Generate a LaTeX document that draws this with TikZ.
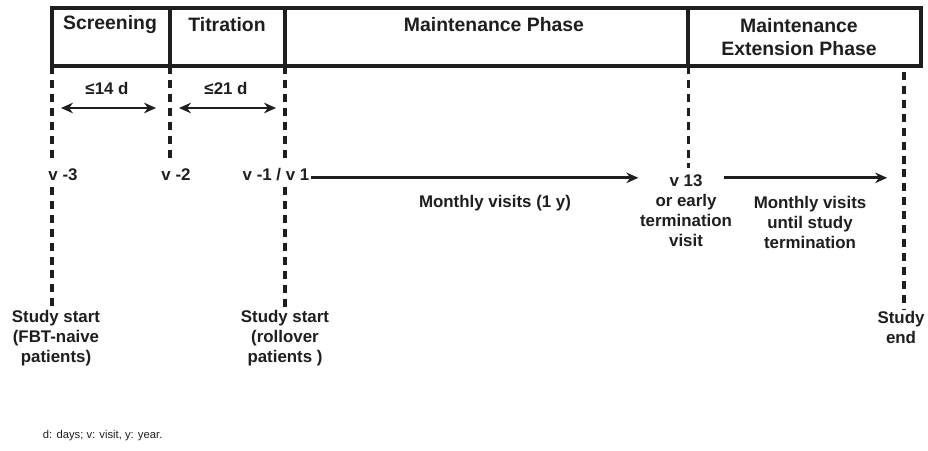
\documentclass[tikz,border=0pt]{standalone}
\usepackage{fontspec}
\setmainfont{Liberation Sans}
\usetikzlibrary{arrows.meta, positioning, calc}
\definecolor{ink}{RGB}{30,30,30}

\begin{document}
\begin{tikzpicture}[x=0.025cm, y=-0.025cm,
		>=Stealth,
		cell/.style={draw=ink, line width=2.6pt, minimum height=1.45cm,
			inner sep=0pt, outer sep=0pt, anchor=north west},
		head/.style={font=\fontsize{13.8}{16.5}\selectfont\bfseries,
			text=ink, align=center},
		lbl/.style={font=\fontsize{12}{14.2}\selectfont\bfseries,
			text=ink, align=center, inner sep=1pt},
		vline/.style={draw=ink, line width=2.3pt, dash pattern=on 5.7pt off 4.2pt},
		arr/.style={draw=ink, line width=2pt, -{Stealth[length=8.5pt,width=7.5pt]}},
		darr/.style={draw=ink, line width=2pt,
			{Stealth[length=8.5pt,width=7.5pt]}-{Stealth[length=8.5pt,width=7.5pt]}}
		]
		\useasboundingbox (0,0) rectangle (928,450);
		
		% Phases
		\node[cell, minimum width=2.95cm]   (scr) at (52,8) {};
		\node[cell, minimum width=2.875cm]  (tit) at (scr.north east) {};
		\node[cell, minimum width=10.075cm] (mai) at (tit.north east) {};
		\node[cell, minimum width=5.825cm]  (ext) at (mai.north east) {};
		
		\node[head] (scrT) at (110,25) {Screening};
		\node[head] (titT) at (227,25) {Titration};
		\node[head] (maiT) at (494,25) {Maintenance Phase};
		\node[head] (extT) at (799,37) {Maintenance\\Extension Phase};
		
		% Durees
		\node[lbl] (d14) at (107,88) {≤14 d};
		\node[lbl] (d21) at (226,88) {≤21 d};
		\coordinate (d14a) at (61,108);
		\coordinate (d14b) at (156,108);
		\coordinate (d21a) at (179,108);
		\coordinate (d21b) at (276,108);
		\foreach \a/\b in {d14a/d14b, d21a/d21b}
		\draw[darr] (\a) -- (\b);
		
		% Visites
		\node[lbl] (v3) at (63,175) {v -3};
		\node[lbl] (v2) at (176,175) {v -2};
		\node[lbl] (v1) at (276,175) {v -1 / v 1};
		\node[lbl] (v13) at (686,211) {v 13\\or early\\termination\\visit};
		\node[lbl] (mv1) at (495,203) {Monthly visits (1 y)};
		\node[lbl] (mvx) at (810,222) {Monthly visits\\until study\\termination};
		
		% Debut et fin
		\node[lbl] (fbt)  at (56,338)  {Study start\\(FBT-naive\\patients)};
		\node[lbl] (roll) at (285,338) {Study start\\(rollover\\patients )};
		\node[lbl] (end)  at (901,327) {Study\\end};
		\coordinate (endtop) at (904,72);
		
		\draw[vline, shorten >=4pt] (scr.south west) -- (scr.south west |- v3.north);
		\draw[vline, shorten <=3pt] (scr.south west |- v3.south) -- (scr.south west |- fbt.north);
		\draw[vline, shorten >=4pt] (tit.south west) -- (tit.south west |- v2.north);
		\draw[vline, shorten >=4pt] (mai.south west) -- (mai.south west |- v1.north);
		\draw[vline, shorten <=3pt] (mai.south west |- v1.south) -- (mai.south west |- roll.north);
		\draw[vline, shorten >=4pt] (ext.south west) -- (ext.south west |- v13.north);
		\draw[vline] (endtop) -- (endtop |- end.north);
		
		\coordinate (lane) at ([yshift=-2pt]v1.east);
		\draw[arr] (lane) -- (lane -| v13.west);
		\draw[arr] ([xshift=-7pt]lane -| v13.east) -- ([xshift=-12pt]lane -| endtop);
		
		\node[font=\fontsize{8}{10}\selectfont, text=ink, anchor=west] (key) at (38,436)
		{d: days; v: visit, y: year.};
	\end{tikzpicture}
\end{document}
